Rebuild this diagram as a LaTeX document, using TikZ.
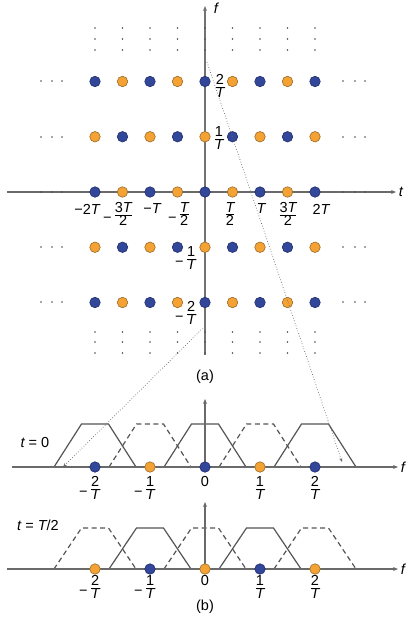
\documentclass[tikz,border=0pt]{standalone}
\usepackage{fontspec}
\setmainfont{Liberation Sans}
\usetikzlibrary{arrows.meta}
\definecolor{axisgray}{HTML}{6A6A6A}
\definecolor{trapgray}{HTML}{555555}
\definecolor{dotblue}{HTML}{33479A}
\definecolor{dotblueedge}{HTML}{1F2D6A}
\definecolor{dotorange}{HTML}{F4A233}
\definecolor{dotorangeedge}{HTML}{9A6A28}
\newcommand\fr[2]{$\frac{\hbox{#1}}{\hbox{#2}}$}
\newcommand\lowminus{\raisebox{-4pt}[0pt][0pt]{−}\hspace{2pt}}
\newcommand\mytrap[3]{\draw[#3] (#1-41,#2) -- (#1-13.5,#2-43) -- (#1+13.5,#2-43) -- (#1+41,#2);}
\newcommand\mytrapb[3]{\draw[#3] (#1-41,#2) -- (#1-13.5,#2-41) -- (#1+13.5,#2-41) -- (#1+41,#2);}
\begin{document}
\begin{tikzpicture}[x=1pt,y=-1pt,
  every node/.style={font=\fontsize{14.5}{17}\selectfont, inner sep=0pt},
  axis/.style={draw=axisgray, line width=1.1pt, -{Stealth[length=5pt,width=4pt]}},
  vaxis/.style={draw=black!55, line width=1.6pt, -{Stealth[length=5pt,width=4pt]}},
  bdot/.style={circle, fill=dotblue, draw=dotblueedge, line width=0.6pt, minimum size=10.5pt, inner sep=0pt},
  odot/.style={circle, fill=dotorange, draw=dotorangeedge, line width=0.6pt, minimum size=10.5pt, inner sep=0pt},
  tinydot/.style={circle, fill=black!70, minimum size=1.8pt, inner sep=0pt},
  trap/.style={draw=trapgray, line width=1.2pt},
  dtrap/.style={draw=trapgray, line width=1.2pt, dash pattern=on 5pt off 3.5pt},
  link/.style={draw=black!60, dotted, line width=0.7pt, -{Stealth[length=4pt,width=3pt]}}]
\useasboundingbox (0,0) rectangle (405,635);

% ---------- part (a) ----------
\coordinate (fb) at (205,355);
\coordinate (ft) at (205,6);
\draw[vaxis] (fb) -- (ft);
\node (flab) at (216,8) {\itshape f};
\coordinate (tl) at (7,192);
\coordinate (tr) at (396,192);
\draw[axis] (tl) -- (tr);
\node (tlab) at (401,192) {\itshape t};

\foreach \k in {-4,...,4}{
  \foreach \y in {28,39,50,332,342,353}{
    \node[tinydot] (v\k-\y) at (205+27.5*\k,\y) {};
  }
}
\foreach \y in {81,137,192,247,302}{
  \foreach \x in {41,52,62,343,355,365}{
    \node[tinydot] (h\x-\y) at (\x,\y) {};
  }
}
\foreach \k in {-4,...,4}{
  \foreach \m in {-2,...,2}{
    \pgfmathtruncatemacro\s{mod(\k+\m+100,2)}
    \ifnum\s=0
      \node[bdot] (a\k\m) at (205+27.5*\k,192-55.25*\m) {};
    \else
      \node[odot] (a\k\m) at (205+27.5*\k,192-55.25*\m) {};
    \fi
  }
}

% t-axis labels
\node (lm2T) at (87,209) {−2\itshape T};
\node (lm3T) at (118,214) {\lowminus\fr{3\itshape T}{2}};
\node (lmT) at (152,209) {−\itshape T};
\node (lmT2) at (179,214) {\lowminus\fr{\itshape T}{2}};
\node (lT2) at (230,214) {\fr{\itshape T}{2}};
\node (lT) at (261,209) {\itshape T};
\node (l3T) at (288,214) {\fr{3\itshape T}{2}};
\node (l2T) at (321,209) {2\itshape T};
% f-axis labels
\node (lf2) at (220,86) {\fr{2}{\itshape T}};
\node (lf1) at (219,138) {\fr{1}{\itshape T}};
\node (lfm1) at (186,258) {\lowminus\fr{1}{\itshape T}};
\node (lfm2) at (186,313) {\lowminus\fr{2}{\itshape T}};
\node (capa) at (205,377) {(a)};

% ---------- part (b), t = 0 ----------
\mytrap{95}{467}{trap}
\mytrap{205}{467}{trap}
\mytrap{315}{467}{trap}
\mytrap{150}{467}{dtrap}
\mytrap{260}{467}{dtrap}
\coordinate (b1l) at (12,467);
\coordinate (b1r) at (398,467);
\draw[axis] (b1l) -- (b1r);
\node (b1f) at (403,467) {\itshape f};
\coordinate (b1o) at (205,467);
\coordinate (b1t) at (205,399);
\draw[axis] (b1o) -- (b1t);
\node[bdot] (p1a) at (95,467) {};
\node[odot] (p1b) at (150,467) {};
\node[bdot] (p1c) at (205,467) {};
\node[odot] (p1d) at (260,467) {};
\node[bdot] (p1e) at (315,467) {};
\node (t0) at (35,443) {\itshape t\upshape{} = 0};
\node (q1a) at (90,488) {\lowminus\fr{2}{\itshape T}};
\node (q1b) at (145,488) {\lowminus\fr{1}{\itshape T}};
\node (q1c) at (205,482) {0};
\node (q1d) at (260,488) {\fr{1}{\itshape T}};
\node (q1e) at (315,488) {\fr{2}{\itshape T}};

% ---------- part (b), t = T/2 ----------
\mytrapb{95}{569}{dtrap}
\mytrapb{205}{569}{dtrap}
\mytrapb{315}{569}{dtrap}
\mytrapb{150}{569}{trap}
\mytrapb{260}{569}{trap}
\coordinate (b2l) at (7,569);
\coordinate (b2r) at (398,569);
\draw[axis] (b2l) -- (b2r);
\node (b2f) at (403,569) {\itshape f};
\coordinate (b2o) at (205,569);
\coordinate (b2t) at (205,502);
\draw[axis] (b2o) -- (b2t);
\node[odot] (p2a) at (95,569) {};
\node[bdot] (p2b) at (150,569) {};
\node[odot] (p2c) at (205,569) {};
\node[bdot] (p2d) at (260,569) {};
\node[odot] (p2e) at (315,569) {};
\node (tT2) at (38,525) {\itshape t\upshape{} = \itshape T\upshape/2};
\node (q2a) at (90,587) {\lowminus\fr{2}{\itshape T}};
\node (q2b) at (145,587) {\lowminus\fr{1}{\itshape T}};
\node (q2c) at (205,581) {0};
\node (q2d) at (260,587) {\fr{1}{\itshape T}};
\node (q2e) at (315,587) {\fr{2}{\itshape T}};
\node (capb) at (205,607) {(b)};

% ---------- dotted mapping lines ----------
\coordinate (s1) at (207,62);
\coordinate (e1) at (342,462);
\coordinate (s2) at (203,328);
\coordinate (e2) at (63,467);
\draw[link] (s1) -- (e1);
\draw[link] (s2) -- (e2);
\end{tikzpicture}
\end{document}
